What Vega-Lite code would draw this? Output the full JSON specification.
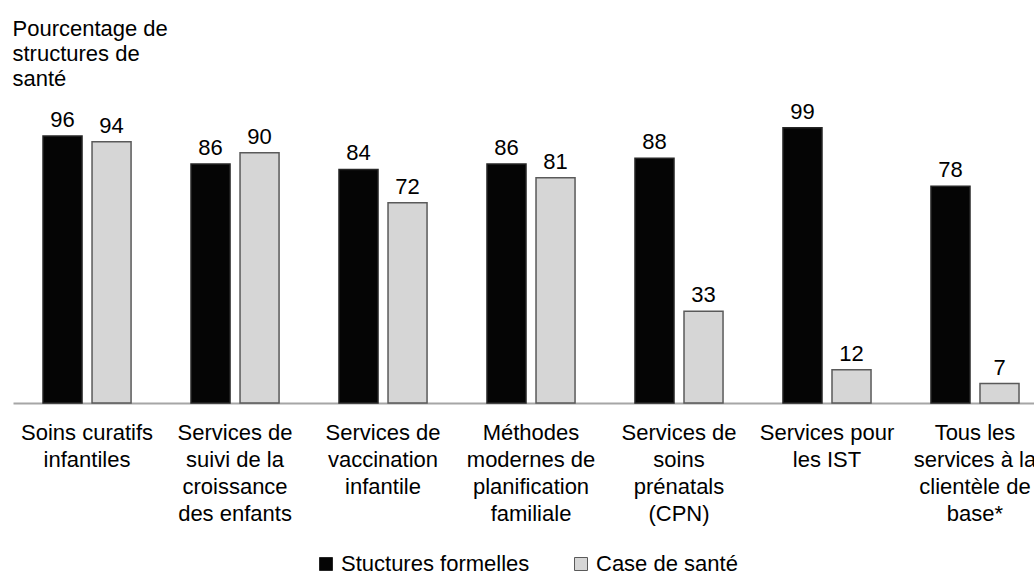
{
  "$schema": "https://vega.github.io/schema/vega-lite/v6.json",
  "autosize": {"type": "none"},
  "width": 1021,
  "height": 278,
  "padding": {"left": 13, "top": 125, "right": 0, "bottom": 173},
  "background": "white",
  "config": {
    "view": {"stroke": null},
    "font": "Liberation Sans",
    "text": {"font": "Liberation Sans"}
  },
  "data": {
    "values": [
      {"cat": "Soins curatifs|infantiles", "serie": "Stuctures formelles", "pct": 96},
      {"cat": "Soins curatifs|infantiles", "serie": "Case de santé", "pct": 94},
      {"cat": "Services de|suivi de la|croissance|des enfants", "serie": "Stuctures formelles", "pct": 86},
      {"cat": "Services de|suivi de la|croissance|des enfants", "serie": "Case de santé", "pct": 90},
      {"cat": "Services de|vaccination|infantile", "serie": "Stuctures formelles", "pct": 84},
      {"cat": "Services de|vaccination|infantile", "serie": "Case de santé", "pct": 72},
      {"cat": "Méthodes|modernes de|planification|familiale", "serie": "Stuctures formelles", "pct": 86},
      {"cat": "Méthodes|modernes de|planification|familiale", "serie": "Case de santé", "pct": 81},
      {"cat": "Services de|soins|prénatals|(CPN)", "serie": "Stuctures formelles", "pct": 88},
      {"cat": "Services de|soins|prénatals|(CPN)", "serie": "Case de santé", "pct": 33},
      {"cat": "Services pour|les IST", "serie": "Stuctures formelles", "pct": 99},
      {"cat": "Services pour|les IST", "serie": "Case de santé", "pct": 12},
      {"cat": "Tous les|services à la|clientèle de|base*", "serie": "Stuctures formelles", "pct": 78},
      {"cat": "Tous les|services à la|clientèle de|base*", "serie": "Case de santé", "pct": 7}
    ]
  },
  "encoding": {
    "x": {
      "field": "cat",
      "type": "nominal",
      "sort": null,
      "scale": {"paddingInner": 0.405, "paddingOuter": 0.152, "align": 0.667},
      "axis": {
        "title": null,
        "labelAngle": 0,
        "labelExpr": "split(datum.value, '|')",
        "labelFontSize": 22,
        "labelFont": "Liberation Sans",
        "labelColor": "#000000",
        "labelLineHeight": 27,
        "labelBaseline": "top",
        "labelPadding": 19,
        "labelLimit": 300,
        "ticks": false,
        "tickSize": 0,
        "domainColor": "#a6a6a6",
        "domainWidth": 2,
        "grid": false
      }
    },
    "xOffset": {
      "field": "serie",
      "type": "nominal",
      "sort": ["Stuctures formelles", "Case de santé"],
      "scale": {"paddingInner": 0.204, "paddingOuter": 0}
    },
    "y": {
      "field": "pct",
      "type": "quantitative",
      "scale": {"domain": [0, 100], "nice": false},
      "axis": {
        "title": ["Pourcentage de", "structures de", "santé"],
        "titleAngle": 0,
        "titleAlign": "left",
        "titleBaseline": "top",
        "titleX": -1,
        "titleY": -107,
        "titleFontSize": 22,
        "titleFont": "Liberation Sans",
        "titleFontWeight": "normal",
        "titleColor": "#000000",
        "titleLineHeight": 25,
        "labels": false,
        "ticks": false,
        "domain": false,
        "grid": false
      }
    }
  },
  "layer": [
    {
      "mark": {"type": "bar", "strokeWidth": 1.5},
      "encoding": {
        "fill": {
          "field": "serie",
          "type": "nominal",
          "sort": ["Stuctures formelles", "Case de santé"],
          "scale": {"domain": ["Stuctures formelles", "Case de santé"], "range": ["#050505", "#d6d6d6"]},
          "legend": {
            "title": null,
            "orient": "none",
            "direction": "horizontal",
            "legendX": 302,
            "legendY": 428,
            "symbolType": "square",
            "symbolSize": 169,
            "symbolStrokeColor": "#555555",
            "symbolStrokeWidth": 1,
            "labelFontSize": 22,
            "labelFont": "Liberation Sans",
            "labelColor": "#000000",
            "labelOffset": 4,
            "columnPadding": 40,
            "labelLimit": 400
          }
        },
        "stroke": {
          "field": "serie",
          "type": "nominal",
          "scale": {"domain": ["Stuctures formelles", "Case de santé"], "range": ["#262626", "#5a5a5a"]},
          "legend": null
        }
      }
    },
    {
      "mark": {"type": "text", "baseline": "alphabetic", "dy": -9, "fontSize": 22, "font": "Liberation Sans", "color": "#000000"},
      "encoding": {
        "text": {"field": "pct", "type": "quantitative"}
      }
    }
  ]
}
